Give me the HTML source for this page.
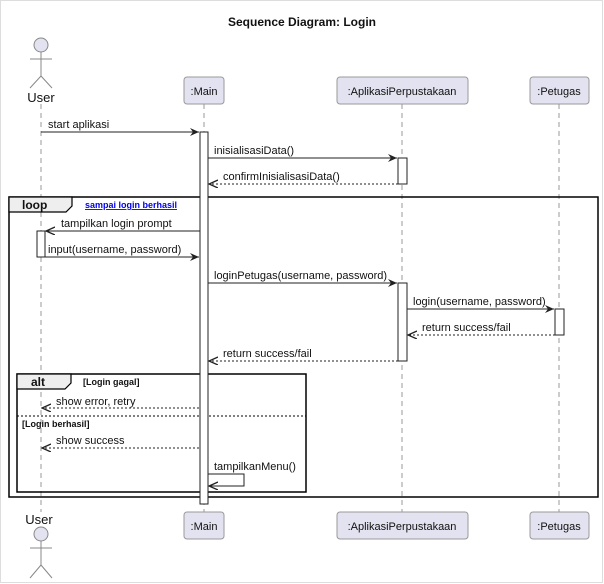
<!DOCTYPE html>
<html><head><meta charset="utf-8"><style>
html,body{margin:0;padding:0;background:#fff}
svg{display:block}
text{font-family:"Liberation Sans",sans-serif;font-size:11px;fill:#111}
</style></head><body>
<svg width="604" height="584" viewBox="0 0 604 584" xmlns="http://www.w3.org/2000/svg">
<defs>
<marker id="a" markerWidth="10" markerHeight="10" refX="9" refY="4" orient="auto" markerUnits="userSpaceOnUse"><path d="M0,0 L9,4 L0,8 L3,4 Z" fill="#222"/></marker>
<marker id="b" markerWidth="10" markerHeight="10" refX="9" refY="4" orient="auto" markerUnits="userSpaceOnUse"><path d="M0,0 L9,4 L0,8" fill="none" stroke="#222" stroke-width="1.3"/></marker>
</defs>
<rect x="0.5" y="0.5" width="602" height="582" fill="#fff" stroke="#ddd"/>
<text x="302" y="26" text-anchor="middle" style="font-weight:bold;font-size:12px">Sequence Diagram: Login</text>
<g stroke="#999" stroke-dasharray="5,4" stroke-width="1">
<line x1="41" y1="104" x2="41" y2="512"/>
<line x1="204" y1="104" x2="204" y2="512"/>
<line x1="402" y1="104" x2="402" y2="512"/>
<line x1="559" y1="104" x2="559" y2="512"/>
</g>
<g stroke="#888" fill="none" stroke-width="1">
<circle cx="41" cy="45" r="7" fill="#e2e2f0"/>
<line x1="41" y1="52" x2="41" y2="76"/><line x1="30" y1="59" x2="52" y2="59"/>
<line x1="41" y1="76" x2="30" y2="88"/><line x1="41" y1="76" x2="52" y2="88"/>
<circle cx="41" cy="534" r="7" fill="#e2e2f0"/>
<line x1="41" y1="541" x2="41" y2="565"/><line x1="30" y1="548" x2="52" y2="548"/>
<line x1="41" y1="565" x2="30" y2="578"/><line x1="41" y1="565" x2="52" y2="578"/>
</g>
<text x="41" y="102" text-anchor="middle" style="font-size:13px">User</text>
<text x="39" y="524" text-anchor="middle" style="font-size:13px">User</text>
<g fill="#e2e2f0" stroke="#999">
<rect x="184" y="77" width="40" height="27" rx="3"/>
<rect x="337" y="77" width="131" height="27" rx="3"/>
<rect x="530" y="77" width="59" height="27" rx="3"/>
<rect x="184" y="512" width="40" height="27" rx="3"/>
<rect x="337" y="512" width="131" height="27" rx="3"/>
<rect x="530" y="512" width="59" height="27" rx="3"/>
</g>
<g style="font-size:13px" text-anchor="middle">
<text x="204" y="95">:Main</text><text x="402" y="95">:AplikasiPerpustakaan</text><text x="559" y="95">:Petugas</text>
<text x="204" y="530">:Main</text><text x="402" y="530">:AplikasiPerpustakaan</text><text x="559" y="530">:Petugas</text>
</g>
<rect x="9" y="197" width="589" height="300" fill="none" stroke="#000" stroke-width="1.5"/>
<path d="M9,197 H72 V206 L66,212 H9 Z" fill="#eee" stroke="#000" stroke-width="1.2"/>
<text x="22" y="209" style="font-weight:bold;font-size:12px">loop</text>
<text x="85" y="208" style="font-size:9px;font-weight:bold;fill:#00e;text-decoration:underline">sampai login berhasil</text>
<rect x="17" y="374" width="289" height="118" fill="none" stroke="#000" stroke-width="1.5"/>
<path d="M17,374 H71 V383 L65,389 H17 Z" fill="#eee" stroke="#000" stroke-width="1.2"/>
<text x="31" y="386" style="font-weight:bold;font-size:12px">alt</text>
<text x="83" y="385" style="font-size:9px;font-weight:bold">[Login gagal]</text>
<line x1="17" y1="416" x2="306" y2="416" stroke="#000" stroke-dasharray="2,2"/>
<text x="22" y="427" style="font-size:9px;font-weight:bold">[Login berhasil]</text>
<g fill="#fff" stroke="#222">
<rect x="200" y="132" width="8" height="372"/>
<rect x="398" y="158" width="9" height="26"/>
<rect x="398" y="283" width="9" height="78"/>
<rect x="555" y="309" width="9" height="26"/>
<rect x="37" y="231" width="8" height="26"/>
</g>
<g stroke="#222" stroke-width="1" fill="none">
<line x1="41" y1="132" x2="199" y2="132" marker-end="url(#a)"/>
<line x1="208" y1="158" x2="397" y2="158" marker-end="url(#a)"/>
<line x1="398" y1="184" x2="209" y2="184" stroke-dasharray="2,2" marker-end="url(#b)"/>
<line x1="200" y1="231" x2="46" y2="231" marker-end="url(#b)"/>
<line x1="45" y1="257" x2="199" y2="257" marker-end="url(#a)"/>
<line x1="208" y1="283" x2="397" y2="283" marker-end="url(#a)"/>
<line x1="407" y1="309" x2="554" y2="309" marker-end="url(#a)"/>
<line x1="555" y1="335" x2="408" y2="335" stroke-dasharray="2,2" marker-end="url(#b)"/>
<line x1="398" y1="361" x2="209" y2="361" stroke-dasharray="2,2" marker-end="url(#b)"/>
<line x1="199" y1="408" x2="42" y2="408" stroke-dasharray="2,2" marker-end="url(#b)"/>
<line x1="199" y1="448" x2="42" y2="448" stroke-dasharray="2,2" marker-end="url(#b)"/>
<polyline points="208,474 244,474 244,486 209,486" marker-end="url(#b)"/>
</g>
<text x="48" y="128">start aplikasi</text>
<text x="214" y="154">inisialisasiData()</text>
<text x="223" y="180">confirmInisialisasiData()</text>
<text x="61" y="227">tampilkan login prompt</text>
<text x="48" y="253">input(username, password)</text>
<text x="214" y="279">loginPetugas(username, password)</text>
<text x="413" y="305">login(username, password)</text>
<text x="422" y="331">return success/fail</text>
<text x="223" y="357">return success/fail</text>
<text x="56" y="405">show error, retry</text>
<text x="56" y="444">show success</text>
<text x="214" y="470">tampilkanMenu()</text>
</svg>
</body></html>
